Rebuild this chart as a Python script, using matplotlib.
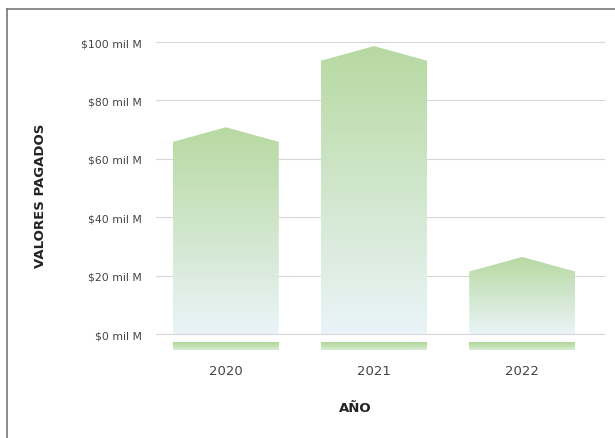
import numpy as np
import matplotlib
matplotlib.use('Agg')
import matplotlib.pyplot as plt
from matplotlib import font_manager
from matplotlib.patches import Polygon, Rectangle
from matplotlib.lines import Line2D
from matplotlib.colors import LinearSegmentedColormap

# Data (values in "mil M")
years = ['2020', '2021', '2022']
valores = [70.8, 98.6, 26.4]
yticks = [0, 20, 40, 60, 80, 100]
ytick_labels = ['$0 mil M', '$20 mil M', '$40 mil M', '$60 mil M', '$80 mil M', '$100 mil M']

# Style
BAR_WIDTH = 0.715
ROOF = 5.0
TOP_COLOR = '#b7d9a1'
BOTTOM_COLOR = '#eaf4f8'
STRIP_TOP = (-2.7, -5.5)
GRID_COLOR = '#d6d6d6'

# Montserrat only if a regular weight is really there
mont = [f for f in font_manager.fontManager.ttflist
        if f.name == 'Montserrat' and str(f.weight) in ('400', 'normal', 'regular')]
FONT = (['Montserrat'] if mont else []) + ['DejaVu Sans']
plt.rcParams['font.family'] = FONT

fig = plt.figure(figsize=(6.15, 4.39), dpi=100)
ax = fig.add_axes([0.254, 0.1836, 0.73, 0.7517])

bar_cmap = LinearSegmentedColormap.from_list('bar', [BOTTOM_COLOR, TOP_COLOR])
strip_cmap = LinearSegmentedColormap.from_list('strip', ['#d8ecd2', '#a8d38e'])
grad = np.linspace(0, 1, 256).reshape(-1, 1)

for i, v in enumerate(valores):
    x0 = i - BAR_WIDTH / 2
    x1 = i + BAR_WIDTH / 2
    shoulder = v - ROOF
    pts = [(x0, 0), (x0, shoulder), (i, v), (x1, shoulder), (x1, 0)]
    poly = Polygon(pts, closed=True, facecolor='none', edgecolor='none')
    ax.add_patch(poly)
    im = ax.imshow(grad, cmap=bar_cmap, origin='lower', aspect='auto',
                   extent=(x0, x1, 0, v), zorder=3)
    im.set_clip_path(poly)

    # green strip under the baseline
    rect = Rectangle((x0, STRIP_TOP[1]), BAR_WIDTH, STRIP_TOP[0] - STRIP_TOP[1],
                     facecolor='none', edgecolor='none')
    ax.add_patch(rect)
    im2 = ax.imshow(grad, cmap=strip_cmap, origin='lower', aspect='auto',
                    extent=(x0, x1, STRIP_TOP[1], STRIP_TOP[0]), zorder=3)
    im2.set_clip_path(rect)

ax.set_xlim(-0.47, 2.56)
ax.set_ylim(-8, 105)

for t in yticks:
    ax.axhline(t, color=GRID_COLOR, linewidth=0.8, zorder=1)

ax.set_yticks(yticks)
ax.set_yticklabels(ytick_labels, fontsize=7.8, color='#444444')
ax.set_xticks(range(len(years)))
ax.set_xticklabels(years, fontsize=9.5, color='#444444')
ax.tick_params(axis='y', length=0, pad=10)
ax.tick_params(axis='x', length=0, pad=5)
for spine in ax.spines.values():
    spine.set_visible(False)

fig.text(355 / 615, 1 - 409 / 439, 'AÑO', fontsize=9.5, fontweight='bold',
         color='#222222', ha='center', va='center')
fig.text(40 / 615, 1 - 196 / 439, 'VALORES PAGADOS', rotation=90, fontsize=9.5,
         fontweight='bold', color='#222222', ha='center', va='center')

# outer frame (left and top edges)
fig.add_artist(Line2D([7 / 615, 7 / 615], [0, 1 - 10 / 439], transform=fig.transFigure,
                      color='#777777', linewidth=1.2))
fig.add_artist(Line2D([7 / 615, 1], [1 - 10 / 439, 1 - 10 / 439], transform=fig.transFigure,
                      color='#777777', linewidth=1.2))

fig.savefig('out.png', dpi=100)
